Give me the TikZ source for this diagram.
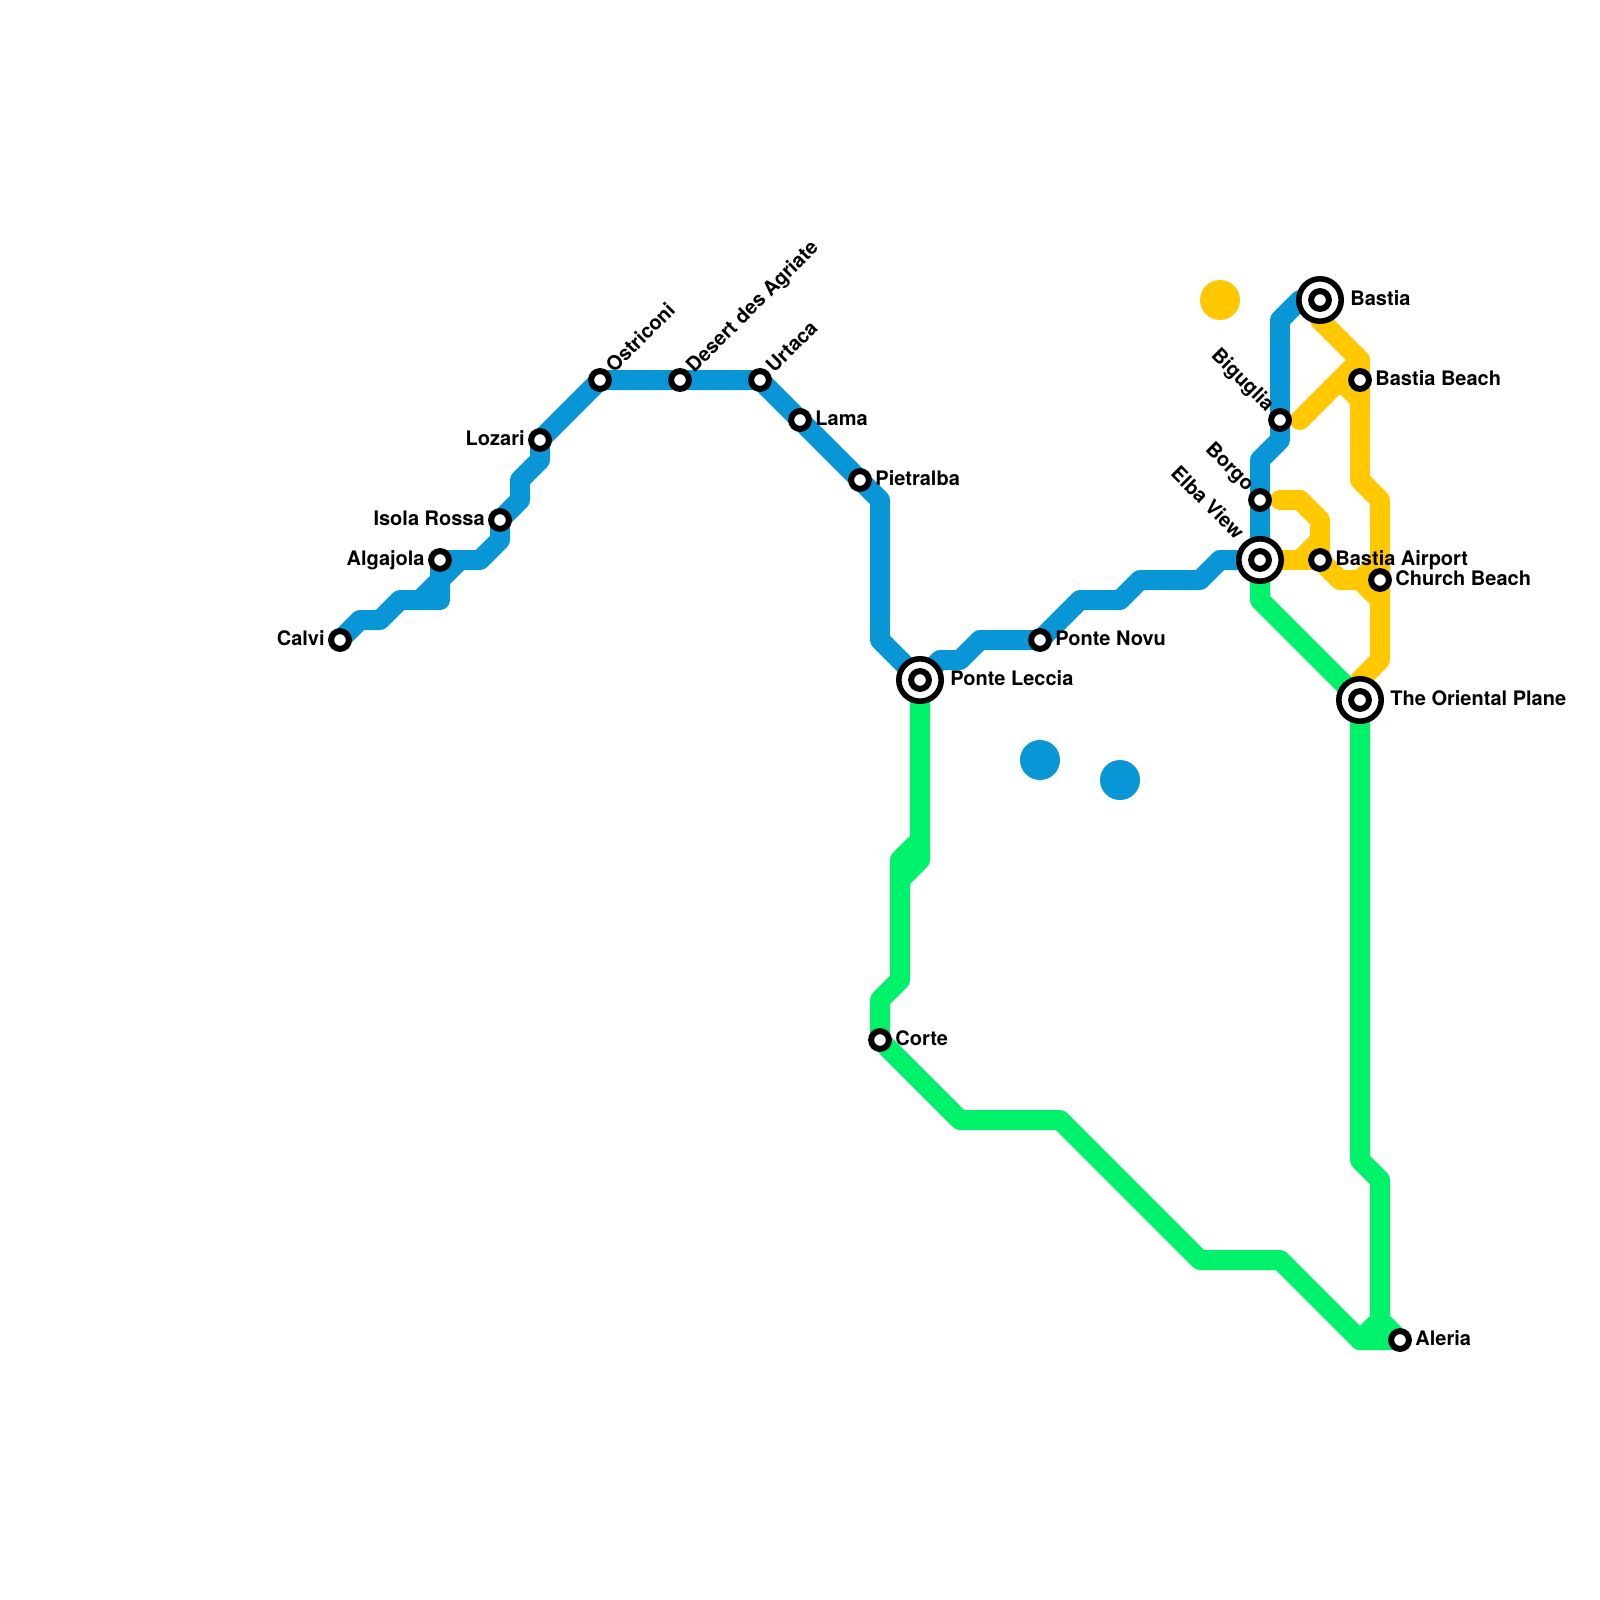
\documentclass[tikz,border=0pt]{standalone}
\usepackage{fontspec}
\setmainfont{TeX Gyre Heros}
\usetikzlibrary{backgrounds}
\definecolor{lineblue}{HTML}{0896D7}
\definecolor{lineyellow}{HTML}{FFC800}
\definecolor{linegreen}{HTML}{00F26A}
\tikzset{
  x=0.5pt,y=-0.5pt,
  metro/.style={line width=10pt,line join=round,line cap=round},
  bluel/.style={metro,draw=lineblue},
  yellowl/.style={metro,draw=lineyellow},
  greenl/.style={metro,draw=linegreen},
  stn/.style={circle,draw=black,fill=white,line width=3pt,inner sep=0pt,minimum size=8.9pt},
  hub/.style={circle,draw=black,fill=white,line width=2.8pt,inner sep=0pt,minimum size=21.2pt},
  lbl/.style={font=\fontsize{10}{12}\selectfont\bfseries,inner sep=0pt,text=black},
  blob/.style={circle,inner sep=0pt,minimum size=20pt},
}
\begin{document}
\begin{tikzpicture}
\useasboundingbox (0,0) rectangle (1600,1600);
% stations
\node[stn] (calvi) at (340,640) {};
\node[stn] (algajola) at (440,560) {};
\node[stn] (isola) at (500,520) {};
\node[stn] (lozari) at (540,440) {};
\node[stn] (ostriconi) at (600,380) {};
\node[stn] (desert) at (680,380) {};
\node[stn] (urtaca) at (760,380) {};
\node[stn] (lama) at (800,420) {};
\node[stn] (pietralba) at (860,480) {};
\node[hub] (leccia) at (920,680) {};
\node[stn] (lecciain) at (920,680) {};
\node[stn] (novu) at (1040,640) {};
\node[hub] (elba) at (1260,560) {};
\node[stn] (elbain) at (1260,560) {};
\node[stn] (borgo) at (1260,500) {};
\node[stn] (biguglia) at (1280,420) {};
\node[hub] (bastia) at (1320,300) {};
\node[stn] (bastiain) at (1320,300) {};
\node[stn] (beach) at (1360,380) {};
\node[stn] (airport) at (1320,560) {};
\node[stn] (church) at (1380,580) {};
\node[hub] (plane) at (1360,700) {};
\node[stn] (planein) at (1360,700) {};
\node[stn] (corte) at (880,1040) {};
\node[stn] (aleria) at (1400,1340) {};
% blobs
\node[blob,fill=lineyellow] (dotyellow) at (1220,300) {};
\node[blob,fill=lineblue] (dotblueone) at (1040,760) {};
\node[blob,fill=lineblue] (dotbluetwo) at (1120,780) {};
% lines
\begin{scope}[on background layer]
\draw[yellowl] (bastia.center) -- (1320,320) -- (1360,360) -- (beach.center) -- (1360,480) -- (1380,500) -- (church.center) -- (1380,660) -- (1360,680) -- (plane.center);
\draw[yellowl] (1300,420) -- (1340,380) -- (1360,400);
\draw[yellowl] (1340,380) -- (1360,360);
\draw[yellowl] (1280,500) -- (1300,500) -- (1320,520) -- (airport.center) -- (1340,580) -- (1360,580) -- (1380,600);
\draw[yellowl] (1360,580) -- (1380,560);
\draw[yellowl] (elba.center) -- (airport.center);
\draw[yellowl] (1300,560) -- (1320,540);
\draw[bluel] (calvi.center) -- (360,620) -- (380,620) -- (400,600) -- (440,600) -- (algajola.center) -- (480,560) -- (500,540) -- (isola.center) -- (520,500) -- (520,480) -- (540,460) -- (lozari.center) -- (ostriconi.center) -- (desert.center) -- (urtaca.center) -- (lama.center) -- (pietralba.center) -- (880,500) -- (880,640) -- (leccia.center) -- (940,660) -- (960,660) -- (980,640) -- (novu.center) -- (1080,600) -- (1120,600) -- (1140,580) -- (1200,580) -- (1220,560) -- (elba.center) -- (borgo.center) -- (1260,460) -- (1280,440) -- (biguglia.center) -- (1280,320) -- (1300,300) -- (bastia.center);
\draw[bluel] (420,600) -- (460,560);
\draw[greenl] (leccia.center) -- (920,860) -- (900,880);
\draw[greenl] (920,840) -- (900,860) -- (900,980) -- (880,1000) -- (corte.center) -- (960,1120) -- (1060,1120) -- (1200,1260) -- (1280,1260) -- (1360,1340) -- (aleria.center);
\draw[greenl] (elba.center) -- (1260,600) -- (plane.center) -- (1360,1160) -- (1380,1180) -- (1380,1320) -- (aleria.center);
\draw[greenl] (1380,1320) -- (1360,1340);
\end{scope}
% labels
\node[lbl,anchor=base east] (tcalvi) at (325,645) {Calvi};
\node[lbl,anchor=base east] (talgajola) at (425,565) {Algajola};
\node[lbl,anchor=base east] (tisola) at (485,525) {Isola Rossa};
\node[lbl,anchor=base east] (tlozari) at (525,445) {Lozari};
\node[lbl,anchor=base west,rotate=45] (tostriconi) at (614,374) {Ostriconi};
\node[lbl,anchor=base west,rotate=45] (tdesert) at (694,374) {Desert des Agriate};
\node[lbl,anchor=base west,rotate=45] (turtaca) at (774,374) {Urtaca};
\node[lbl,anchor=base west] (tlama) at (815,425) {Lama};
\node[lbl,anchor=base west] (tpietralba) at (875,485) {Pietralba};
\node[lbl,anchor=base west] (tleccia) at (950,685) {Ponte Leccia};
\node[lbl,anchor=base west] (tnovu) at (1055,645) {Ponte Novu};
\node[lbl,anchor=base east,rotate=-45] (telba) at (1236,541) {Elba View};
\node[lbl,anchor=base east,rotate=-45] (tborgo) at (1246.5,492.5) {Borgo};
\node[lbl,anchor=base east,rotate=-45] (tbiguglia) at (1266.5,412.5) {Biguglia};
\node[lbl,anchor=base west] (tbastia) at (1350,305) {Bastia};
\node[lbl,anchor=base west] (tbeach) at (1375,385) {Bastia Beach};
\node[lbl,anchor=base west] (tairport) at (1335,565) {Bastia Airport};
\node[lbl,anchor=base west] (tchurch) at (1395,585) {Church Beach};
\node[lbl,anchor=base west] (tplane) at (1390,705) {The Oriental Plane};
\node[lbl,anchor=base west] (tcorte) at (895,1045) {Corte};
\node[lbl,anchor=base west] (taleria) at (1415,1345) {Aleria};
\end{tikzpicture}
\end{document}
